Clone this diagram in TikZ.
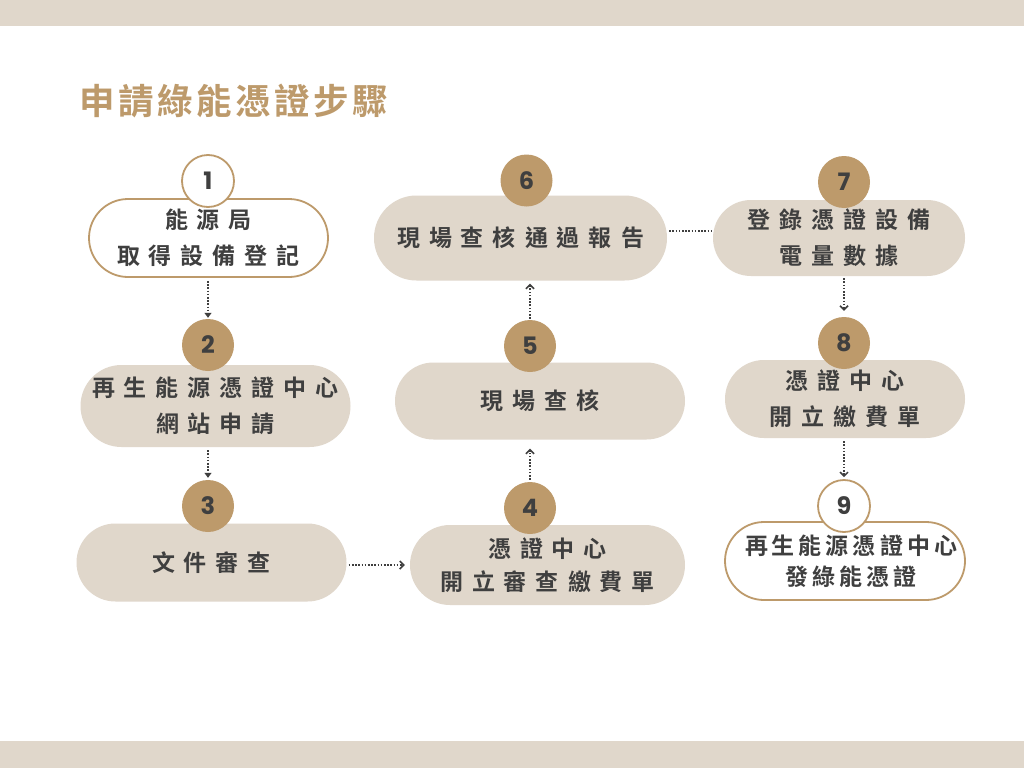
\documentclass[tikz,border=0pt]{standalone}
\usepackage{fontspec}
\usetikzlibrary{arrows.meta}
\newfontfamily\cjk{Noto Sans CJK TC}[BoldFont={Noto Sans CJK TC Bold}]
\newfontfamily\numf{Poppins}
\definecolor{beige}{HTML}{E0D7CB}
\definecolor{brn}{HTML}{BD9A6B}
\definecolor{ink}{HTML}{3F3F3F}
\newcommand{\lsp}{\hspace{9pt}}
\newcommand{\lss}{\hspace{4pt}}
\tikzset{
  pill/.style={draw=none, fill=beige, rectangle, inner sep=0pt, align=center, text=ink,
    font=\fontsize{23pt}{36pt}\selectfont\cjk\bfseries},
  wpill/.style={pill, fill=white, draw=brn, line width=1.8pt},
  numc/.style={circle, fill=brn, minimum size=52pt, inner sep=0pt, text=ink,
    font=\fontsize{24pt}{26pt}\selectfont\numf\bfseries},
  wnumc/.style={numc, fill=white, draw=brn, line width=1.8pt},
  conn/.style={draw=ink, line width=2pt, dash pattern=on 1.6pt off 1.6pt},
  tarr/.style={conn, -{Triangle[width=7pt,length=5pt]}},
  barr/.style={conn, -{Straight Barb[width=8pt,length=4pt,line width=1.5pt]}}
}
\begin{document}
\begin{tikzpicture}[x=1pt,y=-1pt]
\useasboundingbox (0,0) rectangle (1024,768);
\fill[white] (0,0) rectangle (1024,768);
\fill[beige] (0,0) rectangle (1024,26);
\fill[beige] (0,741) rectangle (1024,768);

\node[anchor=west, inner sep=0pt, text=brn, font=\fontsize{35.5pt}{40pt}\selectfont\cjk\bfseries] (title) at (79,101)
  {申\hspace{3.5pt}請\hspace{3.5pt}綠\hspace{3.5pt}能\hspace{3.5pt}憑\hspace{3.5pt}證\hspace{3.5pt}步\hspace{3.5pt}驟};

% pills
\node[wpill, minimum width=239pt, minimum height=78pt, rounded corners=39pt] (p1) at (208.5,238)
  {能\lsp 源\lsp 局\\取\lsp 得\lsp 設\lsp 備\lsp 登\lsp 記};
\node[pill, minimum width=270pt, minimum height=82pt, rounded corners=41pt] (p2) at (215.5,406)
  {再\lsp 生\lsp 能\lsp 源\lsp 憑\lsp 證\lsp 中\lsp 心\\網\lsp 站\lsp 申\lsp 請};
\node[pill, minimum width=270pt, minimum height=78pt, rounded corners=39pt] (p3) at (211.5,562.5)
  {文\lsp 件\lsp 審\lsp 查};
\node[pill, minimum width=275pt, minimum height=80pt, rounded corners=40pt, font=\fontsize{23pt}{33pt}\selectfont\cjk\bfseries] (p4) at (547.5,565)
  {憑\lsp 證\lsp 中\lsp 心\\開\lsp 立\lsp 審\lsp 查\lsp 繳\lsp 費\lsp 單};
\node[pill, minimum width=290pt, minimum height=77pt, rounded corners=38.5pt] (p5) at (540,401)
  {現\lsp 場\lsp 查\lsp 核};
\node[pill, minimum width=293pt, minimum height=85pt, rounded corners=42.5pt] (p6) at (520.5,238)
  {現\lsp 場\lsp 查\lsp 核\lsp 通\lsp 過\lsp 報\lsp 告};
\node[pill, minimum width=252pt, minimum height=76pt, rounded corners=38pt] (p7) at (839,238)
  {登\lsp 錄\lsp 憑\lsp 證\lsp 設\lsp 備\\電\lsp 量\lsp 數\lsp 據};
\node[pill, minimum width=240pt, minimum height=78pt, rounded corners=39pt] (p8) at (845,399)
  {憑\lsp 證\lsp 中\lsp 心\\開\lsp 立\lsp 繳\lsp 費\lsp 單};
\node[wpill, minimum width=240pt, minimum height=78pt, rounded corners=39pt, font=\fontsize{23pt}{31pt}\selectfont\cjk\bfseries] (p9) at (845,561)
  {\raisebox{-3pt}{\hspace{12pt}再\lss 生\lss 能\lss 源\lss 憑\lss 證\lss 中\lss 心}\\\raisebox{-3pt}{\hspace{12pt}發\lss 綠\lss 能\lss 憑\lss 證}};

% circles
\node[wnumc] (c1) at (208,181) {1};
\node[numc] (c2) at (208,345) {2};
\node[numc] (c3) at (208,506) {3};
\node[numc] (c4) at (530,508) {4};
\node[numc] (c5) at (530,346) {5};
\node[numc] (c6) at (526.5,180.5) {6};
\node[numc] (c7) at (844,182) {7};
\node[numc] (c8) at (844,343) {8};
\node[wnumc] (c9) at (844,506) {9};

% connectors
\draw[tarr, shorten <=3pt, shorten >=1pt] (p1.south -| c1) -- (c2.north);
\draw[tarr, shorten <=3pt, shorten >=2pt] (p2.south -| c2) -- (c3.north);
\draw[barr, shorten <=2pt, shorten >=5pt] ([yshift=-2.5pt]p3.east) -- ([yshift=-2.5pt]p3.east -| p4.west);
\draw[barr, shorten <=2pt, shorten >=9pt] (c4.north) -- (c4.north |- p5.south);
\draw[barr, shorten <=1pt, shorten >=3pt] (c5.north) -- (c5.north |- p6.south);
\draw[conn, shorten <=2pt] (p6.east |- 0,231) -- (p7.west |- 0,231);
\draw[barr, shorten <=2pt, shorten >=6pt] (p7.south -| c7) -- (c8.north);
\draw[barr, shorten <=3pt, shorten >=2pt] (p8.south -| c8) -- (c9.north);
\end{tikzpicture}
\end{document}
